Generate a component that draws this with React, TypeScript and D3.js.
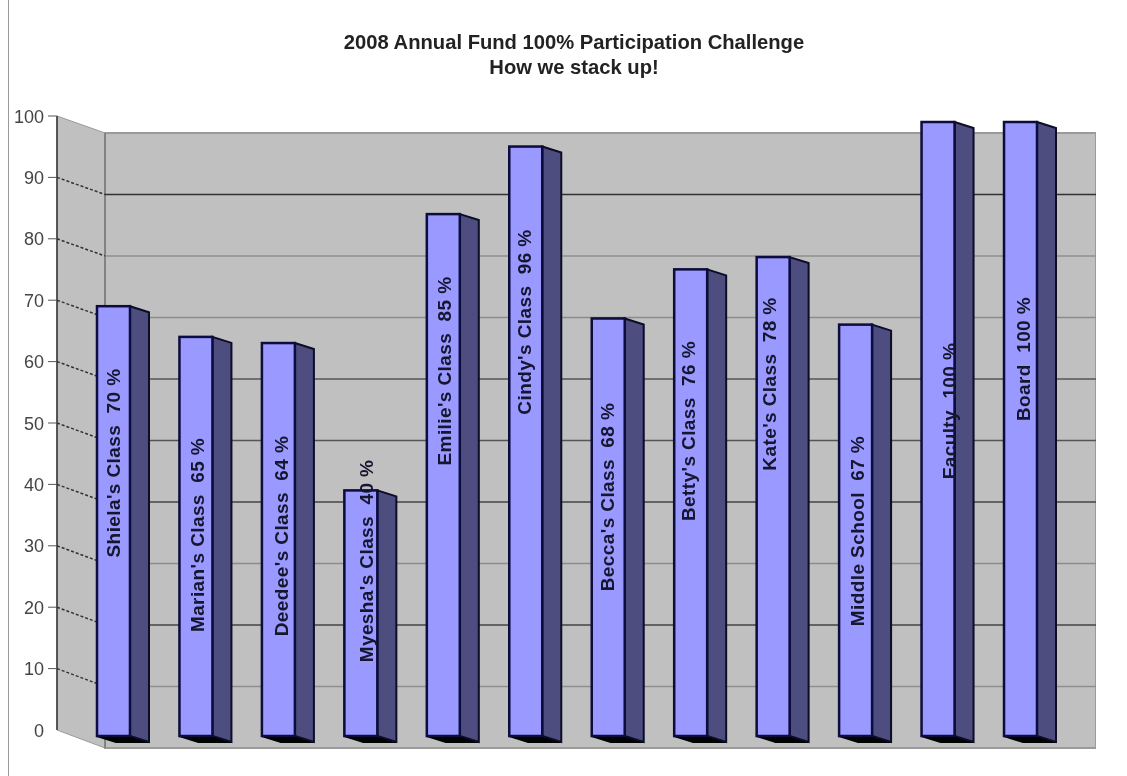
import React from 'react';
import * as d3 from 'd3';

const title = ['2008 Annual Fund 100% Participation Challenge', 'How we stack up!'];
const groups = ["Shiela's Class", "Marian's Class", "Deedee's Class", "Myesha's Class", "Emilie's Class", "Cindy's Class", "Becca's Class", "Betty's Class", "Kate's Class", 'Middle School', 'Faculty', 'Board'];
const percents = [70, 65, 64, 40, 85, 96, 68, 76, 78, 67, 100, 100];
const yTicks = [0, 10, 20, 30, 40, 50, 60, 70, 80, 90, 100];
// the label positions in the original don't follow any rule, so read off per bar
const labelCentres = [463, 535, 536, 561, 371, 322, 497, 431, 384, 531, 411, 359];
const labelXs = [113, 197, 281, 366, 444, 524, 607, 688, 769, 857, 949, 1023];
// gridline colours vary from the resampling of the source image
const gridColours = ['#8a8a8a', '#8f8f8f', '#444', '#8c8c8c', '#444', '#555', '#555', '#8c8c8c', '#8f8f8f', '#333', '#8f8f8f'];

const W = 1127;
const H = 776;
const depthX = 48;
const barDepthX = 19;
const barDepthY = 6;

export default function App() {
  const yFront = d3.scaleLinear().domain([0, 100]).range([730, 116]);
  const yBack = d3.scaleLinear().domain([0, 100]).range([748, 133]);
  const yBar = d3.scaleLinear().domain([0, 100]).range([736, 122]);
  const x = d3.scaleBand().domain(groups).range([97, 1037]).paddingInner(0.6).paddingOuter(0);
  const wallX = 57;
  const backX = wallX + depthX;
  const rightX = 1096;
  const bw = x.bandwidth();
  const line = d3.line();

  return (
    <svg width={W} height={H} style={{ position: 'absolute', left: 0, top: 0, background: '#fff' }} fontFamily="'Liberation Sans', Arial, sans-serif">
      <defs>
        <filter id="soft" x="0" y="0" width="100%" height="100%">
          <feGaussianBlur stdDeviation="0.7" />
        </filter>
      </defs>
      <g filter="url(#soft)">
        <line x1={8} x2={8} y1={0} y2={H} stroke="#777" strokeWidth={1.5} />

        {title.map((t, i) => (
          <text key={t} x={574} y={49 + i * 25} textAnchor="middle" fontSize={20.2} fontWeight="bold" fill="#222">{t}</text>
        ))}

        {/* back wall, side wall, floor */}
        <rect x={backX} y={yBack(100)} width={rightX - backX} height={yBack(0) - yBack(100)} fill="#c0c0c0" stroke="#9a9a9a" strokeWidth={2} />
        <path d={line([[wallX, yFront(100)], [backX, yBack(100)], [backX, yBack(0)], [wallX, yFront(0)]])! + 'Z'} fill="#c0c0c0" stroke="#9a9a9a" />
        <line x1={backX} x2={backX} y1={yBack(100)} y2={yBack(0)} stroke="#777" strokeWidth={1.5} />
        <line x1={wallX} x2={wallX} y1={yFront(100)} y2={yFront(0)} stroke="#333" strokeWidth={1.5} />

        {yTicks.map((t, i) => (
          <g key={t}>
            {t > 0 && t < 100 && <line x1={backX} x2={rightX} y1={yBack(t)} y2={yBack(t)} stroke={gridColours[i]} strokeWidth={1.5} />}
            {t > 0 && t < 100 && <line x1={wallX} x2={backX} y1={yFront(t)} y2={yBack(t)} stroke="#333" strokeDasharray="3 2" strokeWidth={1.5} />}
            {t > 0 && <line x1={wallX - 9} x2={wallX} y1={yFront(t)} y2={yFront(t)} stroke="#555" />}
            <text x={44} y={yFront(t) + 6.5} textAnchor="end" fontSize={18} fill="#444">{t}</text>
          </g>
        ))}

        {groups.map((g, i) => {
          const x0 = x(g)!;
          const x1 = x0 + bw;
          const top = yBar(percents[i]);
          const base = yBar(0);
          return (
            <g key={g}>
              <path d={line([[x0, base], [x1, base], [x1 + barDepthX, base + barDepthY], [x0 + barDepthX, base + barDepthY]])! + 'Z'} fill="#000" stroke="#000" strokeWidth={2} />
              <path d={line([[x1, top], [x1 + barDepthX, top + barDepthY], [x1 + barDepthX, base + barDepthY], [x1, base]])! + 'Z'} fill="#4d4d80" stroke="#0a0a28" strokeWidth={2} />
              <rect x={x0} y={top} width={bw} height={base - top} fill="#9999ff" stroke="#0a0a3c" strokeWidth={2.5} />
            </g>
          );
        })}
        {groups.map((g, i) => (
          <text key={g} transform={`translate(${labelXs[i] + 6.5},${labelCentres[i]}) rotate(-90)`} textAnchor="middle" fontSize={19} fontWeight="bold" letterSpacing={0.4} fill="#14142e" style={{ whiteSpace: 'pre' }}>{`${g}  ${percents[i]} %`}</text>
        ))}
      </g>
    </svg>
  );
}
